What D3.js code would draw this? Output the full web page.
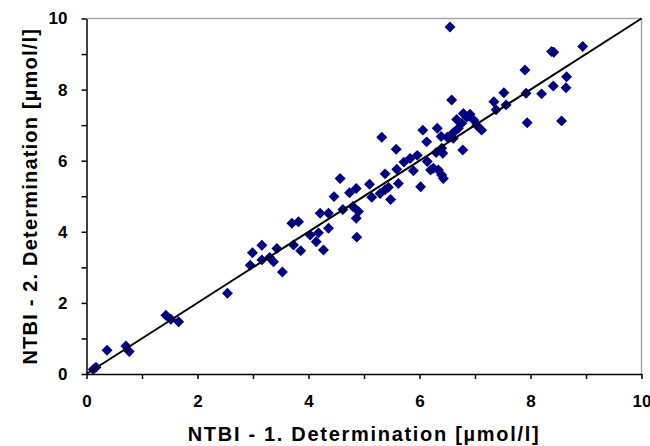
<!DOCTYPE html>
<html>
<head>
<meta charset="utf-8">
<script src="https://cdn.jsdelivr.net/npm/d3@7"></script>
<style>
  body { margin: 0; background: #fff; }
  text { font-family: "Liberation Sans", Arial, sans-serif; font-weight: bold; }
</style>
</head>
<body>
<div id="chart"></div>
<script>
// 1st and 2nd determination values (µmol/l)
var det1 = [0.12, 0.17, 0.37, 0.71, 0.77, 1.43, 1.52, 1.66, 2.54, 2.95,
  2.99, 3.16, 3.16, 3.37, 3.30, 3.43, 3.53, 3.70, 3.82, 3.73,
  3.86, 4.03, 4.14, 4.18, 4.27, 4.36, 4.21, 4.36, 4.46, 4.57,
  4.62, 4.74, 4.86, 4.80, 4.90, 4.86, 4.87, 5.10, 5.14, 5.29,
  5.38, 5.44, 5.48, 5.32, 5.58, 5.38, 5.59, 5.62, 5.72, 5.83,
  5.89, 5.96, 6.02, 6.06, 6.13, 6.14, 6.20, 6.25, 6.32, 6.39,
  6.30, 6.42, 6.40, 6.34, 6.43, 6.40, 6.50, 6.61, 6.61, 6.58,
  6.55, 6.70, 6.78, 6.67, 6.76, 6.85, 6.91, 6.79, 6.98, 7.03,
  7.12, 7.34, 7.38, 7.52, 7.56, 7.90, 7.92, 7.94, 8.20, 8.41,
  8.64, 8.65, 8.56, 8.38, 8.42, 8.94];
var det2 = [0.13, 0.19, 0.67, 0.79, 0.63, 1.65, 1.54, 1.47, 2.27, 3.06,
  3.41, 3.62, 3.21, 3.16, 3.28, 3.53, 2.87, 4.24, 4.28, 3.63,
  3.47, 3.91, 3.72, 3.97, 3.49, 4.10, 4.52, 4.52, 4.99, 5.50,
  4.63, 5.10, 5.22, 4.71, 4.57, 4.38, 3.85, 5.34, 4.97, 5.08,
  5.18, 5.25, 4.91, 6.66, 6.32, 5.63, 5.76, 5.36, 5.96, 6.06,
  5.72, 6.15, 5.27, 6.86, 6.53, 5.98, 5.74, 5.79, 6.91, 6.68,
  6.23, 6.21, 6.35, 5.74, 5.50, 5.60, 6.66, 6.63, 6.79, 7.71,
  9.76, 6.91, 6.30, 7.16, 7.05, 7.22, 7.31, 7.33, 7.14, 7.00,
  6.86, 7.66, 7.43, 7.91, 7.57, 8.55, 7.90, 7.07, 7.88, 8.10,
  8.05, 8.36, 7.12, 9.07, 9.05, 9.21];
var axisTicks = [0, 1, 2, 3, 4, 5, 6, 7, 8, 9, 10];
var identityLine = [0, 10];

var width = 650;
var height = 446;
var margin = { top: 18.5, right: 8.5, bottom: 72, left: 86.5 };

var svg = d3.select("#chart")
  .append("svg")
  .attr("width", width)
  .attr("height", height);

var xScale = d3.scaleLinear()
  .domain([0, 10])
  .range([margin.left, width - margin.right]);
var yScale = d3.scaleLinear()
  .domain([0, 10])
  .range([height - margin.bottom, margin.top]);

// gray frame on top and right
svg.append("path")
  .attr("d", "M" + xScale(0) + "," + yScale(10) + "H" + xScale(10) + "V" + yScale(0))
  .attr("fill", "none")
  .attr("stroke", "#a6a6a6")
  .attr("stroke-width", 1.5);

// points
var points = det1.map(function (d, i) { return [d, det2[i]]; });
var diamond = d3.symbol().type(d3.symbolSquare).size(60);
svg.append("g")
  .selectAll("path")
  .data(points)
  .enter()
  .append("path")
  .attr("d", diamond)
  .attr("transform", function (d) {
    return "translate(" + xScale(d[0]) + "," + yScale(d[1]) + ") rotate(45)";
  })
  .attr("fill", "#000080");

// line of identity
svg.append("line")
  .attr("x1", xScale(identityLine[0]))
  .attr("y1", yScale(identityLine[0]))
  .attr("x2", xScale(identityLine[1]))
  .attr("y2", yScale(identityLine[1]))
  .attr("stroke", "#000")
  .attr("stroke-width", 2);

function fmt(v) { return v % 2 === 0 ? v : ""; }

function xAxis(g) {
  g.attr("transform", "translate(0," + yScale(0) + ")")
    .call(d3.axisBottom(xScale).tickValues(axisTicks).tickFormat(fmt)
      .tickSize(5).tickSizeOuter(0).tickPadding(16));
}
function yAxis(g) {
  g.attr("transform", "translate(" + xScale(0) + ",0)")
    .call(d3.axisLeft(yScale).tickValues(axisTicks).tickFormat(fmt)
      .tickSize(5).tickSizeOuter(0).tickPadding(14));
}

var gx = svg.append("g").call(xAxis);
var gy = svg.append("g").call(yAxis);
[gx, gy].forEach(function (g) {
  g.select(".domain").attr("stroke", "#000").attr("stroke-width", 1.5);
  g.selectAll(".tick line").attr("stroke", "#000").attr("stroke-width", 1.5);
  g.selectAll(".tick text")
    .attr("fill", "#000")
    .style("font-size", "17px")
    .style("font-family", "'Liberation Sans', Arial, sans-serif")
    .style("font-weight", "bold");
});

// axis titles
svg.append("text")
  .attr("x", (xScale(0) + xScale(10)) / 2)
  .attr("y", 441)
  .attr("text-anchor", "middle")
  .style("font-size", "20px")
  .style("letter-spacing", "1.7px")
  .text("NTBI - 1. Determination [µmol/l]");

svg.append("text")
  .attr("transform", "translate(37," + (yScale(0) + yScale(10)) / 2 + ") rotate(-90)")
  .attr("text-anchor", "middle")
  .style("font-size", "20px")
  .style("letter-spacing", "1.2px")
  .text("NTBI - 2. Determination [µmol/l]");
</script>
</body>
</html>
